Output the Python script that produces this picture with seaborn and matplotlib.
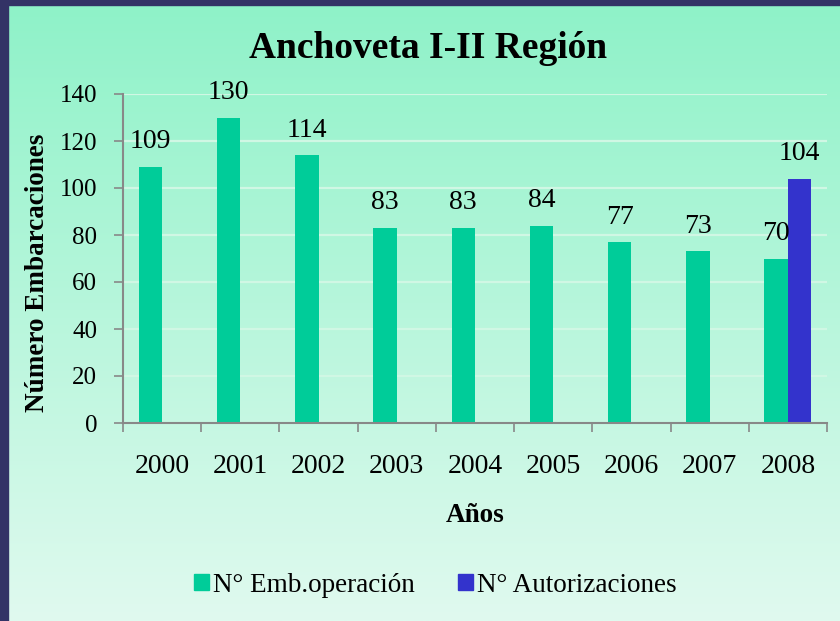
import numpy as np
import pandas as pd
import matplotlib
matplotlib.use('Agg')
import matplotlib.pyplot as plt
import matplotlib.patches as mpatches
import seaborn as sns

# data
years = ['2000', '2001', '2002', '2003', '2004', '2005', '2006', '2007', '2008']
emb_operacion = [109, 130, 114, 83, 83, 84, 77, 73, 70]
autorizaciones_years = ['2008']
autorizaciones = [104]
series_names = ['N° Emb.operación', 'N° Autorizaciones']
colors = ['#00cc99', '#3333cc']

df = pd.concat([
    pd.DataFrame({'Año': years, 'Serie': series_names[0], 'Valor': emb_operacion}),
    pd.DataFrame({'Año': autorizaciones_years, 'Serie': series_names[1], 'Valor': autorizaciones}),
], ignore_index=True)

sns.set_style('white')
plt.rcParams['font.family'] = ['Liberation Serif', 'DejaVu Serif']
plt.rcParams['text.color'] = 'black'
plt.rcParams['xtick.color'] = 'black'
plt.rcParams['ytick.color'] = 'black'
plt.rcParams['axes.labelcolor'] = 'black'

fig = plt.figure(figsize=(8.4, 6.21), dpi=100)

# background gradient (slide panel)
bg = fig.add_axes([0, 0, 1, 1], zorder=-10)
grad = np.linspace(0, 1, 256).reshape(-1, 1)
top_c = np.array([0x8e, 0xf2, 0xc8]) / 255
bot_c = np.array([0xe0, 0xfa, 0xef]) / 255
img = top_c + (bot_c - top_c) * grad[..., None]
bg.imshow(img, aspect='auto', extent=[0, 1, 0, 1], origin='upper')
bg.set_axis_off()
# dark slide border
fig.patches.append(mpatches.Rectangle((0, 0), 8 / 840, 1, transform=fig.transFigure,
                                      color='#333366', zorder=-5))
fig.patches.append(mpatches.Rectangle((0, 1 - 5 / 621), 1, 5 / 621, transform=fig.transFigure,
                                      color='#333366', zorder=-5))

ax = fig.add_axes([123 / 840, 1 - 423 / 621, 704 / 840, 329 / 621])
ax.set_facecolor('none')

sns.barplot(data=df, x='Año', y='Valor', hue='Serie', hue_order=series_names,
            order=years, palette=colors, width=0.6, saturation=1, linewidth=0,
            ax=ax, legend=False)

for cont in ax.containers:
    ax.bar_label(cont, padding=9, fontsize=20, color='black')
for t in ax.texts:
    t.set_clip_on(False)

ax.set_ylim(0, 140)
ax.set_yticks(range(0, 141, 20))
ax.set_xlim(-0.5, len(years) - 0.5)
ax.yaxis.grid(True, color='#d0f7e4', lw=1.6)
ax.set_axisbelow(True)

for s in ['top', 'right']:
    ax.spines[s].set_visible(False)
for s in ['left', 'bottom']:
    ax.spines[s].set_color('#888888')
    ax.spines[s].set_linewidth(1.5)

ax.tick_params(axis='y', which='major', direction='out', length=6.5, width=1.2, color='#888888',
               labelcolor='black', pad=12, labelsize=18, left=True)
ax.tick_params(axis='x', which='major', length=0, pad=22, labelsize=20, labelcolor='black')
ax.set_xticks(np.arange(-0.5, len(years), 1), minor=True)
ax.tick_params(axis='x', which='minor', direction='out', length=6.5, width=1.2,
               color='#888888', bottom=True)

ax.set_ylabel('Número Embarcaciones', fontsize=19.5, fontweight='bold')
ax.yaxis.set_label_coords(-(123 - 38) / 704, (423 - 273) / 329)
ax.yaxis.label.set_va('center')
ax.set_xlabel('Años', fontsize=19.5, fontweight='bold')
ax.xaxis.set_label_coords(0.5, -(515 - 423) / 329)
ax.xaxis.label.set_va('center')
fig.suptitle('Anchoveta I-II Región', fontsize=27, fontweight='bold', x=428 / 840, y=1 - 48 / 621,
             va='center')

handles = [mpatches.Patch(color=c) for c in colors]
fig.legend(handles, series_names, loc='center', bbox_to_anchor=(435 / 840, 1 - 585 / 621),
           ncol=2, frameon=False, fontsize=19.5, handlelength=0.55, handleheight=0.55,
           handletextpad=0.15, columnspacing=1.6)

fig.savefig('out.png', dpi=100)
